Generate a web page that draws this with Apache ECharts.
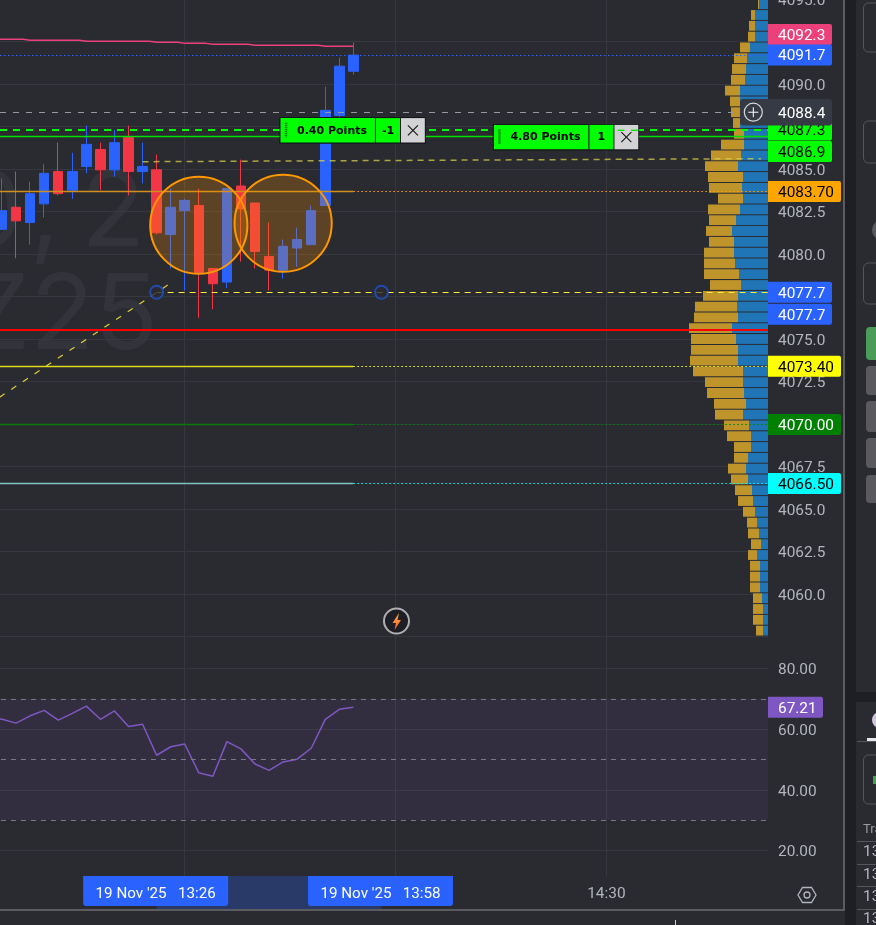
<!DOCTYPE html>
<html>
<head>
<meta charset="utf-8">
<style>html,body{margin:0;padding:0;background:#2a2a31}#main{width:876px;height:925px}</style>
<script src="https://cdn.jsdelivr.net/npm/echarts@6/dist/echarts.min.js"></script>
</head>
<body>
<div id="main"></div>
<script>
// categories, 2 minute bars; the first bar sits just off the left edge
var times = ['13:02','13:04','13:06','13:08','13:10','13:12','13:14','13:16','13:18','13:20','13:22','13:24','13:26','13:28','13:30','13:32','13:34','13:36','13:38','13:40','13:42','13:44','13:46','13:48','13:50','13:52','13:54','13:56','13:58','14:00','14:02','14:04','14:06','14:08','14:10','14:12','14:14','14:16','14:18','14:20','14:22','14:24','14:26','14:28','14:30','14:32','14:34','14:36','14:38','14:40','14:42','14:44','14:46','14:48','14:50','14:52'];
var gridTicks = ['13:30','14:00','14:30'];
var timeLabels = ['14:30'];

// candles
var candleOpen = [4081.9,4081.45,4082.75,4081.85,4082.95,4084.85,4083.75,4085.15,4086.15,4084.95,4086.85,4084.85,4084.95,4081.15,4082.55,4082.85,4079.15,4078.35,4084.0,4083.0,4079.85,4079.05,4080.35,4080.55,4082.85,4088.15,4090.75];
var candleClose = [4081.5,4082.55,4081.95,4083.55,4084.75,4083.55,4084.85,4086.45,4084.95,4086.55,4084.85,4085.15,4081.25,4082.75,4083.15,4078.85,4078.25,4083.85,4082.65,4080.15,4079.05,4080.45,4080.85,4082.55,4088.45,4091.05,4091.7];
var candleLow = [4081.0,4081.45,4079.75,4080.55,4082.15,4083.45,4083.25,4084.75,4083.75,4084.55,4083.45,4084.15,4081.15,4079.15,4077.85,4076.25,4076.75,4078.0,4079.55,4079.15,4077.85,4078.55,4079.25,4080.55,4082.85,4088.05,4090.55];
var candleHigh = [4082.5,4084.45,4084.85,4084.25,4085.3,4086.55,4085.95,4087.55,4086.55,4087.3,4087.55,4086.55,4085.85,4083.85,4083.25,4083.85,4079.15,4083.85,4085.55,4083.0,4081.85,4080.85,4081.55,4082.85,4089.85,4091.55,4092.45];
var stepLine = [4092.63,4092.63,4092.63,4092.57,4092.57,4092.57,4092.57,4092.51,4092.51,4092.51,4092.51,4092.51,4092.45,4092.45,4092.39,4092.39,4092.34,4092.34,4092.34,4092.28,4092.28,4092.28,4092.28,4092.28,4092.22,4092.22,4092.22];
var rsi = [63.7,63.25,62.0,64.4,66.2,63.0,65.2,67.6,63.25,66.0,60.9,61.6,51.4,54.2,55.1,45.6,44.5,55.9,53.5,48.5,46.4,49.2,50.1,53.7,63.25,66.55,67.21];
var rsiLevels = [70,50,30];

// volume profile rows, top to bottom
var profileBlue = [5,9,13,13,13,18,21,22,23,28,28,28,28,24,24,27,30,25,26,25,28,32,36,34,34,33,29,27,30,31,30,36,32,30,30,25,25,24,22,25,19,17,17,20,22,20,16,15,13,11,9,7,11,8,8,8,6,5,5,5];
var profileGold = [0,1,4,6,7,10,13,14,14,15,10,9,7,10,23,30,33,35,33,25,32,27,26,25,30,31,35,31,35,42,44,43,45,47,48,50,38,37,32,28,25,24,17,14,18,17,17,15,12,10,11,10,9,10,10,10,9,10,10,7];

// horizontal levels, -1 means the edge of the pane
var levelPrice = [4091.7,4088.34,4087.3,4086.9,4083.7,4083.7,4077.75,4075.53,4073.4,4073.4,4070,4070,4066.5,4066.5];
var levelFrom = [-1,-1,-1,-1,-1,26,12,-1,-1,26,-1,26,-1,26];
var levelTo = [-1,-1,-1,-1,26,-1,-1,-1,26,-1,26,-1,26,-1];

var trendFrom = [0,11];
var trendTo = [13,55];
var trendFromPrice = [4071.12,4085.43];
var trendToPrice = [4078.29,4085.61];

var circleIdx = [15,21];
var circlePrice = [4081.69,4081.81];
var anchorIdx = [12,28];
var anchorPrice = [4077.75,4077.75];

var tagPrice = [4092.3,4091.7,4087.3,4086.9,4083.7,4077.7,4077.7,4073.4,4070,4066.5];
var tagText = ['4092.3','4091.7','4087.3','4086.9','4083.70','4077.7','4077.7','4073.40','4070.00','4066.50'];
var crossPrice = [4088.34];
var crossText = ['4088.4'];

var orderIdx = [21,36];
var orderPrice = [4087.3,4086.9];
var orderText = ['0.40 Points','4.80 Points'];
var orderQty = ['-1','1'];

var rangeIdx = [12,28];
var rangeText = ["19 Nov '25   13:26","19 Nov '25   13:58"];

// styles
var BG = '#2a2a31', GRID = '#37383f', AXIS = '#b2b5be', BLUE = '#2962ff', RED = '#f23645';
var FONT = '15.4px Roboto';
var levelStyle = [
	{stroke:BLUE,lineWidth:1,lineDash:[1.5,2.5]},
	{stroke:'#9598a1',lineWidth:1,lineDash:[6,7]},
	{stroke:'#00ff00',lineWidth:2,lineDash:[7,6]},
	{stroke:'#00e000',lineWidth:1.5},
	{stroke:'#d08f1c',lineWidth:1.5},
	{stroke:'#ffa500',lineWidth:1,lineDash:[1.5,2.5]},
	{stroke:'#ffeb3b',lineWidth:1,lineDash:[6,5]},
	{stroke:'#ff0000',lineWidth:2},
	{stroke:'#e0d81a',lineWidth:1.5},
	{stroke:'#ffff00',lineWidth:1,lineDash:[1.5,2.5]},
	{stroke:'#0a7a0a',lineWidth:1.5},
	{stroke:'#008000',lineWidth:1,lineDash:[1.5,2.5]},
	{stroke:'#7fc4c4',lineWidth:1.5},
	{stroke:'#00ffff',lineWidth:1,lineDash:[1.5,2.5]}
];
var trendStyle = [
	{stroke:'#ffeb3b',lineWidth:1.2,lineDash:[6,8],opacity:0.85},
	{stroke:'#d8cf4a',lineWidth:1.5,lineDash:[6,5],opacity:0.75}
];
var tagStyle = [
	{fill:'#ec407a',color:'#fff',w:64,dy:-10.5},
	{fill:BLUE,color:'#fff',w:64,dy:0},
	{fill:'#00ff00',color:'#000',w:64,dy:0},
	{fill:'#00ff00',color:'#000',w:64,dy:14.8},
	{fill:'#ffa500',color:'#000',w:73,dy:0.5},
	{fill:BLUE,color:'#fff',w:64,dy:-0.8},
	{fill:BLUE,color:'#fff',w:64,dy:21.2},
	{fill:'#ffff00',color:'#000',w:73,dy:0},
	{fill:'#008000',color:'#fff',w:73,dy:0.4},
	{fill:'#00ffff',color:'#000',w:73,dy:0}
];
var orderDx = [-3.8,-1.2];

function text(x, y, str, fill, font, align) {
	return {type:'text', style:{x:x, y:y, text:str, fill:fill, font:font,
		align:align || 'left', textAlign:align || 'left', verticalAlign:'middle', textBaseline:'middle'}};
}
function line(x1, y1, x2, y2, style) {
	return {type:'line', shape:{x1:x1,y1:y1,x2:x2,y2:y2}, style:style};
}

function renderLevel(params, api) {
	var i = params.dataIndex, cs = params.coordSys;
	var y = api.coord([0, levelPrice[i]])[1];
	y = levelStyle[i].lineWidth === 2 ? Math.round(y) : Math.floor(y) + 0.5;
	var x1 = levelFrom[i] < 0 ? 0 : api.coord([levelFrom[i], levelPrice[i]])[0];
	var x2 = levelTo[i] < 0 ? cs.x + cs.width : api.coord([levelTo[i], levelPrice[i]])[0];
	return line(x1, y, x2, y, levelStyle[i]);
}
function renderTrend(params, api) {
	var i = params.dataIndex;
	var a = api.coord([trendFrom[i], trendFromPrice[i]]);
	var b = api.coord([trendTo[i], trendToPrice[i]]);
	return line(a[0], a[1], b[0], b[1], trendStyle[i]);
}
function renderCircle(params, api) {
	var i = params.dataIndex;
	var c = api.coord([circleIdx[i], circlePrice[i]]);
	return {type:'circle', shape:{cx:c[0],cy:c[1],r:48.6},
		style:{fill:'rgba(255,152,0,0.24)',stroke:'#ff9800',lineWidth:2}};
}
function renderTag(params, api) {
	var i = params.dataIndex, cs = params.coordSys, st = tagStyle[i];
	var y = api.coord([0, tagPrice[i]])[1] + st.dy, x = cs.x + cs.width;
	return {type:'group', children:[
		{type:'rect', shape:{x:x,y:y-10.5,width:st.w,height:21,r:[0,2,2,0]}, style:{fill:st.fill}},
		text(x + 10, y + 1.5, tagText[i], st.color, FONT)
	]};
}
function renderRsiTag(params, api) {
	var cs = params.coordSys, x = cs.x + cs.width;
	var y = api.coord([0, api.value(1)])[1];
	return {type:'group', children:[
		{type:'rect', shape:{x:x,y:y-10.5,width:55,height:21,r:[0,2,2,0]}, style:{fill:'#7e57c2'}},
		text(x + 10, y + 1.5, api.value(1).toFixed(2), '#fff', FONT)
	]};
}
function renderCross(params, api) {
	var cs = params.coordSys, x = cs.x + cs.width;
	var y = api.coord([0, crossPrice[0]])[1];
	return {type:'group', children:[
		{type:'rect', shape:{x:x-28,y:y-13.3,width:92,height:26.6,r:3}, style:{fill:'#363a45'}},
		{type:'circle', shape:{cx:x-14.7,cy:y,r:9}, style:{fill:'#363a45',stroke:'#d8d9dd',lineWidth:1.2}},
		line(x-19.7, y, x-9.7, y, {stroke:'#fff',lineWidth:1}),
		line(x-14.7, y-5, x-14.7, y+5, {stroke:'#fff',lineWidth:1}),
		text(x + 10, y + 1.5, crossText[0], '#fff', FONT)
	]};
}
function renderOrder(params, api) {
	var i = params.dataIndex;
	var p = api.coord([orderIdx[i], orderPrice[i]]);
	var L = p[0] + orderDx[i], C = p[1] + 0.4;
	var lime = '#00ff00', font = 'bold 11px "DejaVu Sans"';
	var kids = [
		{type:'rect', shape:{x:L,y:C-13.2,width:146.5,height:26.6}, style:{fill:'#14161c'}},
		{type:'rect', shape:{x:L+1.2,y:C-12.2,width:94.4,height:24.4}, style:{fill:lime}},
		{type:'rect', shape:{x:L+96.7,y:C-12.2,width:24,height:24.4}, style:{fill:lime}},
		{type:'rect', shape:{x:L+121.7,y:C-12.2,width:23.8,height:24.4}, style:{fill:'#d3d3d6'}},
		line(L+6.7, C-7.5, L+6.7, C+7, {stroke:'#0a5a0a',lineWidth:2.5,lineDash:[1,1]}),
		text(L+52.7, C+0.5, orderText[i], '#000', font, 'center'),
		text(L+108.7, C+0.5, orderQty[i], '#000', font, 'center'),
		line(L+128.6, C-5, L+138.6, C+5, {stroke:'#1a1a1a',lineWidth:1.2}),
		line(L+138.6, C-5, L+128.6, C+5, {stroke:'#1a1a1a',lineWidth:1.2})
	];
	if (i === 1) {
		kids.push(line(L+125, C-6.8, L+131.6, C-6.8, {stroke:'#00f000',lineWidth:1.5}));
		kids.push(line(L+138.3, C-6.8, L+145, C-6.8, {stroke:'#00f000',lineWidth:1.5}));
	}
	return {type:'group', children:kids};
}
function renderRangeBand(params, api) {
	var bottom = params.coordSys.y + params.coordSys.height;
	var a = api.coord([rangeIdx[0], 0])[0], b = api.coord([rangeIdx[1], 0])[0];
	return {type:'rect', shape:{x:a,y:bottom,width:b-a,height:33}, style:{fill:'#2a3a68'}};
}
function renderRange(params, api) {
	var i = params.dataIndex, bottom = params.coordSys.y + params.coordSys.height;
	var x = api.coord([rangeIdx[i], 0])[0];
	return {type:'group', children:[
		{type:'rect', shape:{x:x-73.5,y:bottom,width:145,height:30,r:[0,0,3,3]}, style:{fill:BLUE}},
		text(x-1, bottom+18, rangeText[i], '#fff', '15.2px Roboto', 'center')
	]};
}

// window chrome around the chart
function chrome() {
	var panel = [];
	function rect(x, y, w, h, fill, r) {
		panel.push({type:'rect', shape:{x:x,y:y,width:w,height:h,r:r||0}, style:{fill:fill}, silent:true});
	}
	function box(y, h) {
		panel.push({type:'rect', shape:{x:863.5,y:y,width:30,height:h,r:5}, style:{fill:'none',stroke:'#55565c',lineWidth:1}});
	}
	function gtext(x, y, str, fill, font, align) {
		panel.push(text(x, y, str, fill, font, align));
	}
	gtext(145, 214, '2', '#33343b', '105px Inter', 'right');
	gtext(60, 214, ',', '#33343b', '105px Inter', 'right');
	gtext(23, 214, '0', '#33343b', '105px Inter', 'right');
	gtext(158, 317, 'Z25', '#33343b', '105px Inter', 'right');

	rect(0, 909, 845, 2, '#5c5c60');
	rect(843, 0, 2, 911, '#5c5c60');
	rect(845, 0, 11, 925, '#1e1f24');
	rect(856, 692, 20, 10, '#1e1f24');
	box(3, 49); box(121, 42); box(263, 41); box(755, 49);
	panel.push({type:'circle', shape:{cx:882,cy:230,r:10}, style:{fill:'#5a5a5e'}});
	rect(866, 327, 20, 33, '#4a9c58', 4);
	rect(866, 366, 20, 29, '#5a5a5e', 4);
	rect(866, 401, 20, 31, '#5a5a5e', 4);
	rect(866, 438, 20, 30, '#5a5a5e', 4);
	rect(866, 475, 20, 28, '#5a5a5e', 4);
	panel.push({type:'circle', shape:{cx:880,cy:720,r:8}, style:{fill:'#d0c6e0'}});
	rect(867, 738, 9, 3, '#e8e8ec');
	rect(857, 741, 19, 1, '#55565c');
	rect(873, 776, 3, 8, '#4a9c58');
	rect(857, 841, 19, 1, '#55565c');
	rect(857, 864, 19, 1, '#55565c');
	rect(857, 886, 19, 1, '#55565c');
	rect(857, 909, 19, 1, '#55565c');
	gtext(863, 830, 'Tra', '#9a9ba0', '13px Roboto');
	gtext(863, 852, '13', '#b2b5be', FONT);
	gtext(863, 875, '13', '#b2b5be', FONT);
	gtext(863, 897, '13', '#b2b5be', FONT);
	gtext(863, 919, '13', '#b2b5be', FONT);
	rect(675, 920, 1, 5, '#d0d0d0');

	// lightning button, above the grid lines
	panel.push({type:'circle', z:20, shape:{cx:396.5,cy:621,r:12.5}, style:{fill:'#1e1f26',stroke:'#b0b0b0',lineWidth:2}});
	panel.push({type:'polygon', z:21, shape:{points:[[399,613],[392.5,623],[396,623],[394.5,630],[401,620],[397.5,620]]},
		style:{fill:new echarts.graphic.LinearGradient(0,0,0,1,[{offset:0,color:'#ffb03a'},{offset:1,color:'#ff5f3a'}])}});

	// settings hexagon
	panel.push({type:'polygon', shape:{points:[[798,895],[802.5,887.5],[811.5,887.5],[816,895],[811.5,902.5],[802.5,902.5]]},
		style:{fill:'none',stroke:AXIS,lineWidth:1.3}});
	panel.push({type:'circle', shape:{cx:807,cy:895,r:3}, style:{fill:'none',stroke:AXIS,lineWidth:1.3}});
	return panel;
}

var myChart = echarts.init(document.getElementById('main'), null, {renderer:'canvas'});

var left = -19.05, width = 787.05;
var candleData = candleOpen.map(function (o, i) {
	return [o, candleClose[i], candleLow[i], candleHigh[i]];
});
function dummy(arr) {
	return arr.map(function (v, i) { return [i, v]; });
}
function isIn(list) {
	return function (i, v) { return list.indexOf(v) >= 0; };
}

var option = {
	backgroundColor: BG,
	animation: false,
	grid: [
		{left:left, top:-1, width:width, height:637.5, outerBoundsMode:'none'},
		{left:left, top:668.5, width:width, height:182, outerBoundsMode:'none'},
		{left:-12.02, top:0, width:773, height:876, outerBoundsMode:'none'},
		{left:640, top:-12, width:128, height:648, outerBoundsMode:'none'}
	],
	xAxis: [
		{type:'category', gridIndex:0, data:times, show:false},
		{type:'category', gridIndex:1, data:times, show:false},
		{type:'category', gridIndex:2, data:times, boundaryGap:false,
			axisLine:{show:false}, axisTick:{show:false},
			axisLabel:{color:AXIS, fontFamily:'Roboto', fontSize:15.4, margin:11, interval:isIn(timeLabels)},
			splitLine:{show:true, interval:isIn(gridTicks), lineStyle:{color:GRID, width:1}}},
		{type:'value', gridIndex:3, min:0, max:128, inverse:true, show:false}
	],
	yAxis: [
		{type:'value', gridIndex:0, position:'right', min:4057.5, max:4095, interval:2.5,
			axisLine:{show:false}, axisTick:{show:false},
			axisLabel:{color:AXIS, fontFamily:'Roboto', fontSize:15.4, margin:10, showMinLabel:false,
				verticalAlign:'top', lineHeight:4,
				formatter:function (v) { return v.toFixed(1); }},
			splitLine:{lineStyle:{color:GRID, width:1}}},
		{type:'value', gridIndex:1, position:'right', min:20, max:80, interval:20,
			axisLine:{show:false}, axisTick:{show:false},
			axisLabel:{color:AXIS, fontFamily:'Roboto', fontSize:15.4, margin:10,
				verticalAlign:'top', lineHeight:4,
				formatter:function (v) { return v.toFixed(2); }},
			splitLine:{lineStyle:{color:GRID, width:1}}},
		{type:'value', gridIndex:2, show:false, min:0, max:1},
		{type:'category', gridIndex:3, inverse:true, show:false,
			data:profileBlue.map(function (v, i) { return i; })}
	],
	series: [
		{name:'bidVolume', type:'bar', xAxisIndex:3, yAxisIndex:3, stack:'profile', z:1, silent:true,
			barCategoryGap:'9%', itemStyle:{color:'#1f75b5'}, data:profileBlue},
		{name:'askVolume', type:'bar', xAxisIndex:3, yAxisIndex:3, stack:'profile', z:1, silent:true,
			barCategoryGap:'9%', itemStyle:{color:'#bf942b'}, data:profileGold},
		{name:'price', type:'candlestick', xAxisIndex:0, yAxisIndex:0, z:2, barWidth:10,
			itemStyle:{color:BLUE, color0:RED, borderColor:BLUE, borderColor0:RED, borderWidth:1},
			data:candleData},
		{name:'stepLine', type:'line', xAxisIndex:0, yAxisIndex:0, z:3, step:'middle', symbol:'none',
			lineStyle:{color:'#ec407a', width:1.5}, data:stepLine},
		{name:'levels', type:'custom', xAxisIndex:0, yAxisIndex:0, z:3, renderItem:renderLevel,
			data:dummy(levelPrice)},
		{name:'trends', type:'custom', xAxisIndex:0, yAxisIndex:0, z:3, renderItem:renderTrend,
			data:dummy(trendFromPrice)},
		{name:'anchors', type:'scatter', xAxisIndex:0, yAxisIndex:0, z:4, symbolSize:13,
			itemStyle:{color:BG, borderColor:'#1f52cc', borderWidth:2},
			data:anchorIdx.map(function (v, i) { return [v, anchorPrice[i]]; })},
		{name:'circles', type:'custom', xAxisIndex:0, yAxisIndex:0, z:4, renderItem:renderCircle,
			data:circleIdx.map(function (v, i) { return [v, circlePrice[i]]; })},
		{name:'orders', type:'custom', xAxisIndex:0, yAxisIndex:0, z:6, renderItem:renderOrder,
			data:orderIdx.map(function (v, i) { return [v, orderPrice[i]]; })},
		{name:'tags', type:'custom', xAxisIndex:0, yAxisIndex:0, z:7, renderItem:renderTag,
			data:dummy(tagPrice)},
		{name:'cross', type:'custom', xAxisIndex:0, yAxisIndex:0, z:8, renderItem:renderCross,
			data:dummy(crossPrice)},
		{name:'rsi', type:'line', xAxisIndex:1, yAxisIndex:1, z:3, symbol:'none',
			lineStyle:{color:'#7e57c2', width:1.5}, data:rsi,
			markArea:{silent:true, itemStyle:{color:'rgba(126,87,194,0.1)'},
				data:[[{yAxis:rsiLevels[0]},{yAxis:rsiLevels[2]}]]},
			markLine:{silent:true, symbol:'none', label:{show:false},
				lineStyle:{color:'#787b86', type:[5,5], width:1},
				data:rsiLevels.map(function (v) { return {yAxis:v}; })}},
		{name:'rsiTag', type:'custom', xAxisIndex:1, yAxisIndex:1, z:7, renderItem:renderRsiTag,
			data:[[26, rsi[26]]]},
		{name:'rangeBand', type:'custom', xAxisIndex:2, yAxisIndex:2, z:5, renderItem:renderRangeBand,
			data:[[rangeIdx[0], 0]]},
		{name:'range', type:'custom', xAxisIndex:2, yAxisIndex:2, z:6, renderItem:renderRange,
			data:rangeIdx.map(function (v) { return [v, 0]; })}
	],
	graphic: chrome()
};
myChart.setOption(option);
</script>
</body>
</html>
